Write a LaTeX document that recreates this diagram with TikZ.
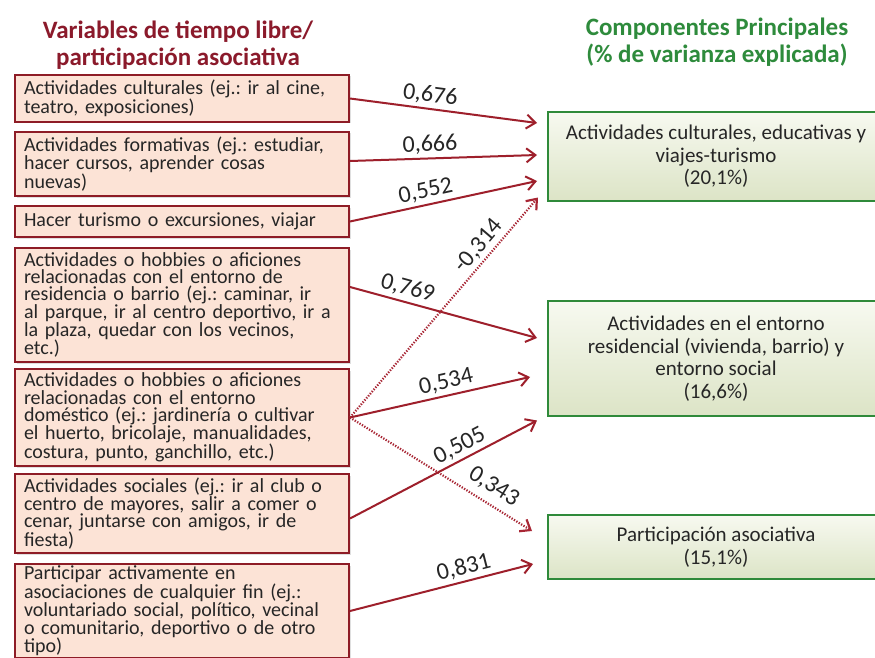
\documentclass[tikz,border=0pt]{standalone}
\usepackage{fontspec}
\setmainfont{Carlito}
\frenchspacing
\usetikzlibrary{arrows.meta,shadows}
\definecolor{boxred}{HTML}{8E1C26}
\definecolor{boxfill}{HTML}{FCE3D6}
\definecolor{arrred}{HTML}{9E1F2B}
\definecolor{dotred}{HTML}{A82634}
\definecolor{titred}{HTML}{8B1A2B}
\definecolor{titgreen}{HTML}{2E8B3C}
\definecolor{gtop}{HTML}{F7F9F0}
\definecolor{gmid}{HTML}{EEF3E2}
\definecolor{gbot}{HTML}{DCE4C6}
\definecolor{gborder}{HTML}{2F8A3A}
\definecolor{txt}{HTML}{262626}
\begin{document}
\begin{tikzpicture}[x=1pt,y=-1pt,
 varbox/.style={draw=boxred, line width=2pt, fill=boxfill, anchor=north west,
   text width=316pt, inner xsep=9pt, inner ysep=1pt, align=left,
   font=\fontsize{20}{17.2}\selectfont, text=txt,
   drop shadow={opacity=0.25, shadow xshift=1.5pt, shadow yshift=-1.5pt}},
 compbox/.style={draw=gborder, line width=2pt, top color=gtop, middle color=gmid, bottom color=gbot,
   anchor=north west, minimum width=336pt, align=center,
   font=\fontsize{21}{22.5}\selectfont, text=txt},
 title/.style={font=\bfseries\fontsize{25}{27.5}\selectfont, align=center},
 load/.style={-{Straight Barb[length=9pt,width=14pt]}, draw=arrred, line width=2pt},
 weak/.style={-{Straight Barb[length=9pt,width=14pt]}, draw=dotred, dash pattern=on 1.3pt off 1.5pt, line width=2.2pt},
 lab/.style={font=\fontsize{24}{24}\selectfont, text=txt, sloped, above=2pt, inner sep=1pt}
]
\useasboundingbox (0,0) rectangle (875,658);
\clip (0,0) rectangle (875,658);
\fill[white] (0,0) rectangle (875,658);

\node[title, text=titred] (t1) at (178,45) {Variables de tiempo libre/\\participación asociativa};
\node[title, text=titgreen] (t2) at (717,42) {Componentes Principales\\(\% de varianza explicada)};

\node[varbox, minimum height=47pt] (b1) at (14,74) {Actividades culturales (ej.: ir al cine,\\teatro, exposiciones)};
\node[varbox, minimum height=64pt] (b2) at (14,131) {Actividades formativas (ej.: estudiar,\\hacer cursos, aprender cosas\\nuevas)};
\node[varbox, minimum height=31pt] (b3) at (14,205) {Hacer turismo o excursiones, viajar};
\node[varbox, minimum height=114pt] (b4) at (14,247) {Actividades o hobbies o aficiones\\relacionadas con el entorno de\\residencia o barrio (ej.: caminar, ir\\al parque, ir al centro deportivo, ir a\\la plaza, quedar con los vecinos,\\etc.)};
\node[varbox, minimum height=97pt] (b5) at (14,368) {Actividades o hobbies o aficiones\\relacionadas con el entorno\\doméstico (ej.: jardinería o cultivar\\el huerto, bricolaje, manualidades,\\costura, punto, ganchillo, etc.)};
\node[varbox, minimum height=79pt] (b6) at (14,473) {Actividades sociales (ej.: ir al club o\\centro de mayores, salir a comer o\\cenar, juntarse con amigos, ir de\\fiesta)};
\node[varbox, minimum height=94pt] (b7) at (14,563) {Participar activamente en\\asociaciones de cualquier fin (ej.:\\voluntariado social, político, vecinal\\o comunitario, deportivo o de otro\\tipo)};

\node[compbox, minimum height=89pt] (g1) at (547,111) {Actividades culturales, educativas y\\viajes-turismo\\(20,1\%)};
\node[compbox, minimum height=115pt] (g2) at (547,300) {Actividades en el entorno\\residencial (vivienda, barrio) y\\entorno social\\(16,6\%)};
\node[compbox, minimum height=64pt] (g3) at (547,514) {Participación asociativa\\(15,1\%)};

\draw[load] (b1.east) -- node[lab,pos=0.42] {0,676} ([xshift=-10pt,yshift=33.5pt]g1.west);
\draw[load] ([yshift=3pt]b2.east) -- node[lab,pos=0.43] {0,666} ([xshift=-10pt,yshift=1.5pt]g1.west);
\draw[load] (b3.east) -- node[lab,pos=0.42] {0,552} ([xshift=-10pt,yshift=-24.5pt]g1.west);
\draw[load] ([yshift=18pt]b4.east) -- node[lab,pos=0.29] {0,769} ([xshift=-10pt,yshift=20.5pt]g2.west);
\draw[weak] (b5.east) -- node[lab,pos=0.74] {-0,314} ([xshift=-9pt,yshift=-41pt]g1.west);
\draw[load] (b5.east) -- node[lab,pos=0.55] {0,534} ([xshift=-17pt,yshift=-18.5pt]g2.west);
\draw[weak] (b5.east) -- node[lab,pos=0.74,above=4pt] {0,343} ([xshift=-15pt,yshift=16pt]g3.west);
\draw[load] ([yshift=-5pt]b6.east) -- node[lab,pos=0.62] {0,505} ([xshift=-10pt,yshift=-62pt]g2.west);
\draw[load] (b7.east) -- node[lab,pos=0.64] {0,831} ([xshift=-14pt,yshift=-17pt]g3.west);
\end{tikzpicture}
\end{document}
